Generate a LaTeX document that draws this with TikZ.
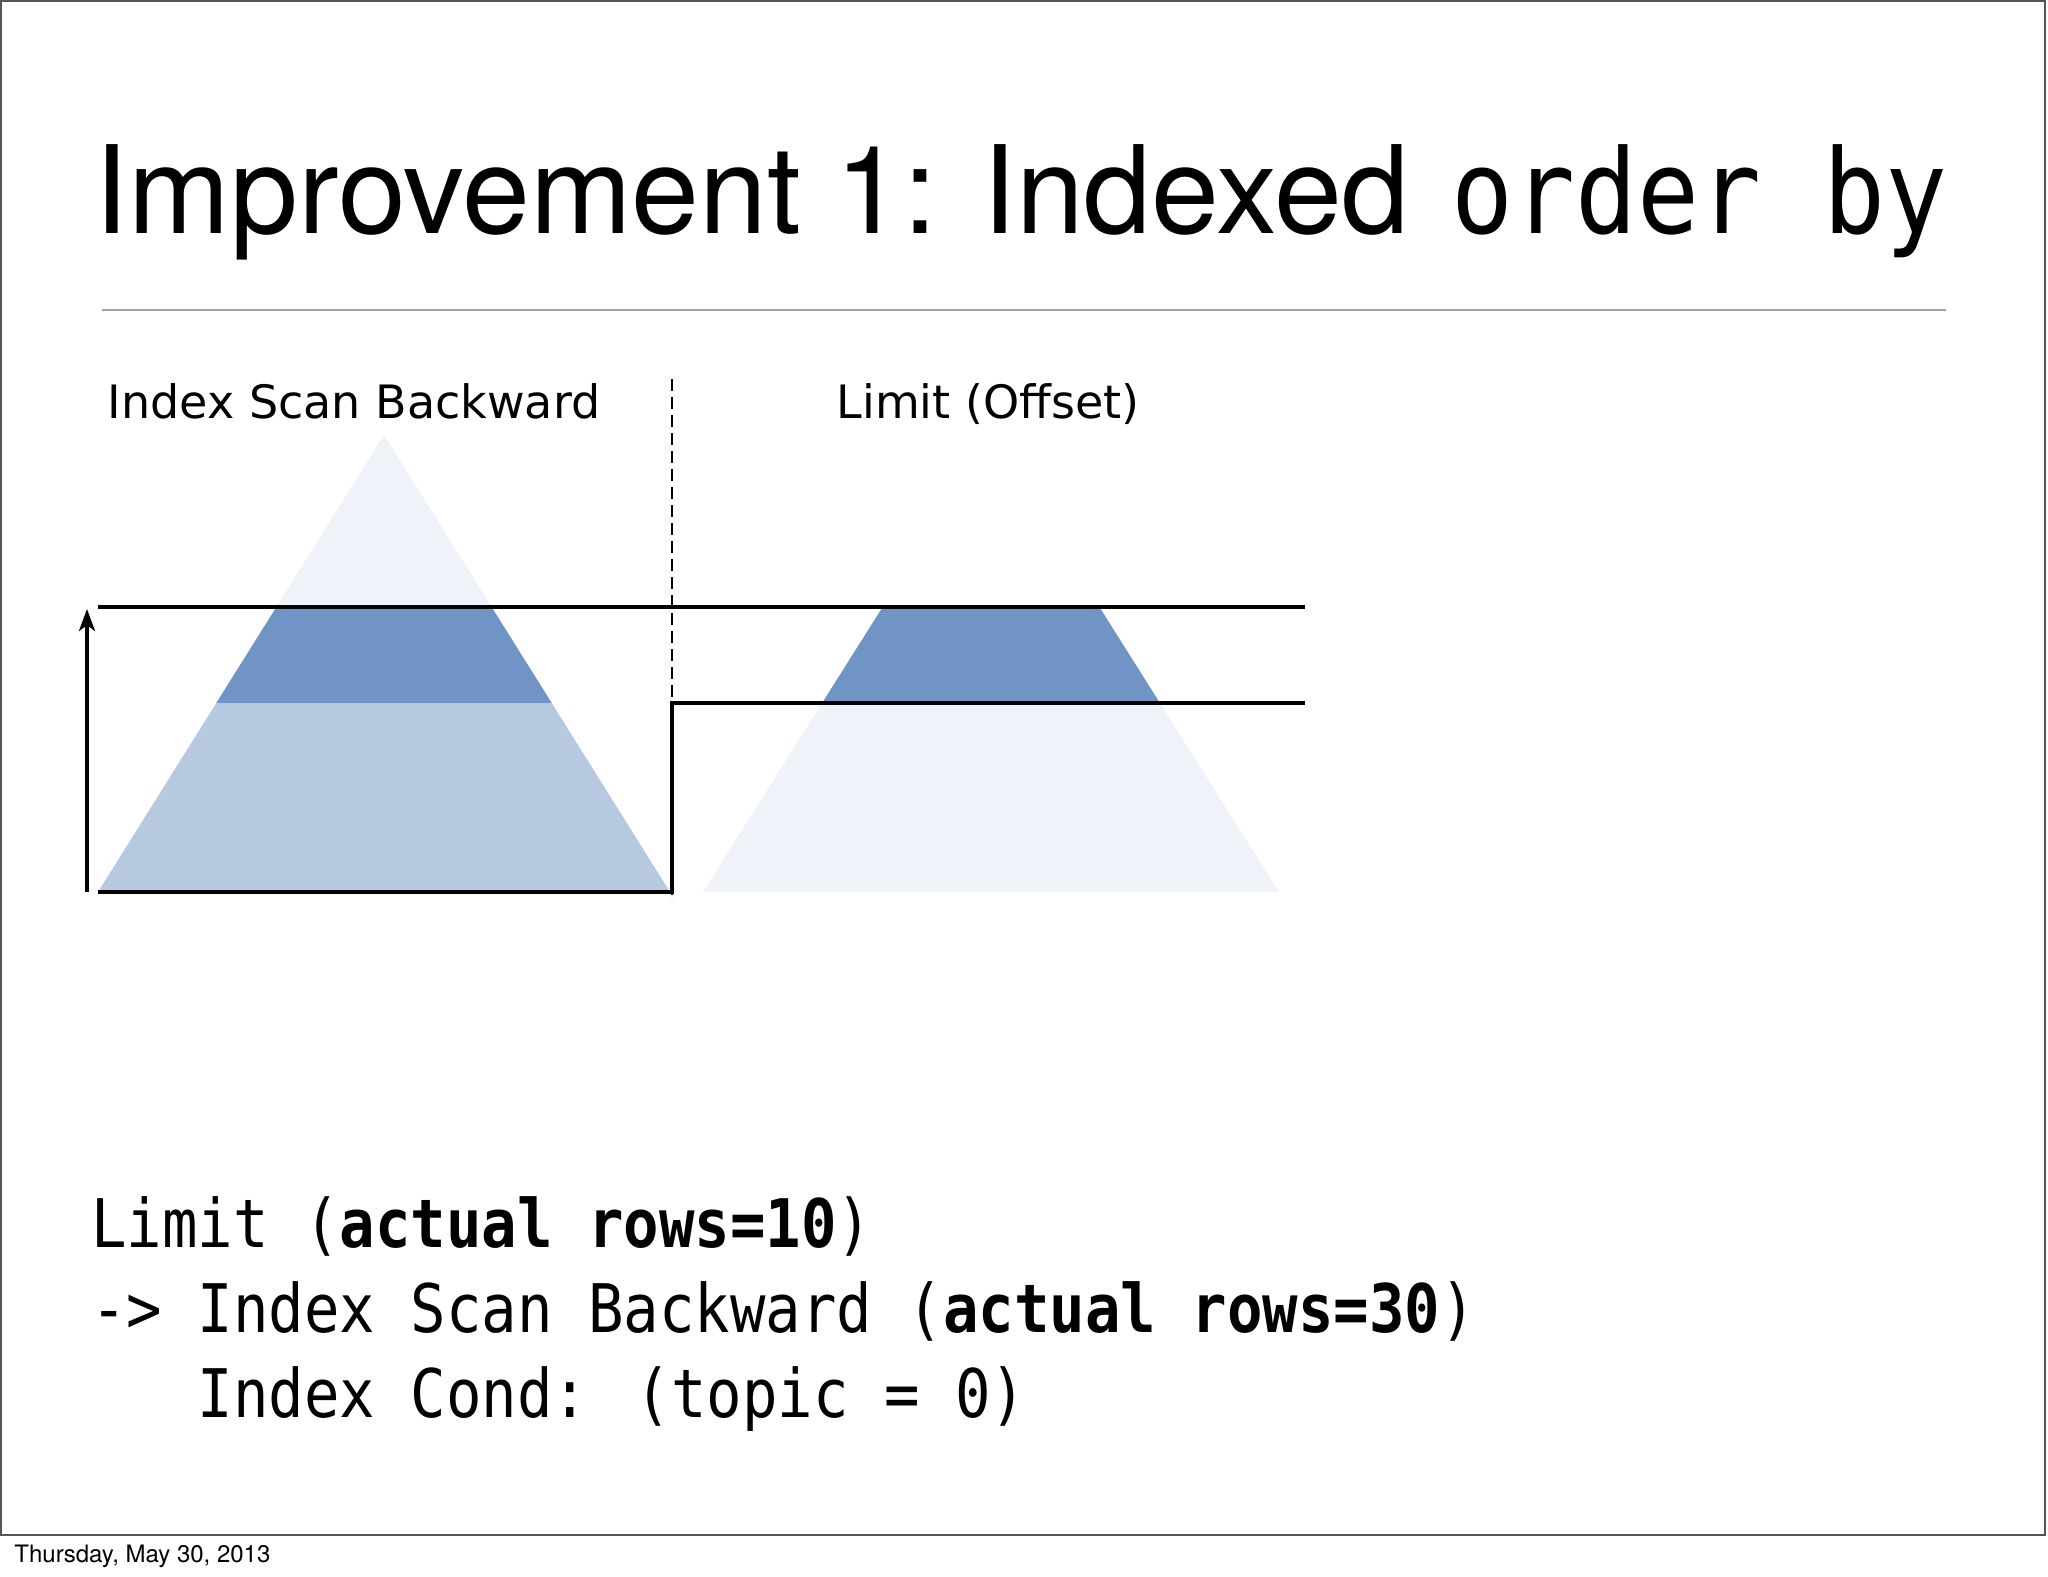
\documentclass[tikz,border=0pt]{standalone}
\usepackage{fontspec}
\setmainfont{DejaVu Sans}
\newfontfamily\helvfont{TeX Gyre Heros}
\newfontfamily\planfont[FakeStretch=0.88]{DejaVu Sans Mono}
\usepackage{xcolor}
\usetikzlibrary{arrows.meta}

\definecolor{bandDark}{HTML}{7194C6}
\definecolor{bandMid}{HTML}{B7C8E1}
\definecolor{bandPale}{HTML}{EFF2F9}
\definecolor{ruleGray}{HTML}{A0A0A0}
\definecolor{frameGray}{HTML}{555555}

\begin{document}
\begin{tikzpicture}[
  x=0.5pt, y=-0.5pt,
  thickline/.style={line width=1.9pt},
  splitline/.style={line width=1pt, dash pattern=on 6pt off 3pt},
  arrow/.style={-{Stealth[length=11pt, width=8pt, inset=3pt]}, line width=1.9pt},
  headlabel/.style={inner sep=0pt, anchor=base, font=\fontsize{23}{26}\selectfont},
  plantext/.style={inner sep=0pt, anchor=base west, font=\planfont\fontsize{33.5}{40}\selectfont}
]

\useasboundingbox (0,0) rectangle (2048,1576);

% ================= slide frame and title =================
\draw[frameGray, line width=1pt] (1,1) rectangle (2045,1535);

\node[inner sep=0pt, anchor=base west, font=\helvfont\fontsize{61}{70}\selectfont]
  (title) at (94,233) {Improvement 1: Indexed};
\node[inner sep=0pt, anchor=base west, font=\planfont\fontsize{58.5}{66}\selectfont]
  (title_code) at (1451,233) {order by};

\draw[ruleGray, line width=1pt] (102,310) -- (1946,310);

% ================= triangles =================
\coordinate (scan_apex) at (384,435);
\coordinate (scan_bl) at (98,892);
\coordinate (scan_br) at (670,892);
\coordinate (lim_apex) at (991,435);
\coordinate (lim_bl) at (703,892);
\coordinate (lim_br) at (1279,892);

\begin{scope}
  \clip (scan_apex) -- (scan_bl) -- (scan_br) -- cycle;
  \fill[bandPale] (0,400) rectangle (2048,607);
  \fill[bandDark] (0,607) rectangle (2048,703);
  \fill[bandMid] (0,703) rectangle (2048,892);
\end{scope}

\begin{scope}
  \clip (lim_apex) -- (lim_bl) -- (lim_br) -- cycle;
  \fill[bandDark] (0,607) rectangle (2048,703);
  \fill[bandPale] (0,703) rectangle (2048,892);
\end{scope}

% ================= row lines =================
\coordinate (rows_top_l) at (98,607);
\coordinate (rows_top_r) at (1305,607);
\coordinate (offset_r) at (1305,703);
\coordinate (split_mid) at (672,703);
\coordinate (split_bot) at (672,892);
\coordinate (split_top) at (672,379);
\coordinate (split_end) at (672,901);
\coordinate (scan_start) at (87,892);
\coordinate (scan_end) at (87,609);

\draw[splitline] (split_top) -- (split_end);
\draw[thickline] (rows_top_l) -- (rows_top_r);
\draw[thickline] (scan_bl) -- (split_bot) -- (split_mid) -- (offset_r);
\draw[arrow] (scan_start) -- (scan_end);

\node[headlabel] (scan_label) at (354,418) {Index Scan Backward};
\node[headlabel] (limit_label) at (988,418) {Limit (Offset)};

% ================= plan output =================
\node[plantext] (plan_limit) at (91,1247) {Limit (\textbf{actual rows=10})};
\node[plantext] (plan_scan) at (91,1332) {-> Index Scan Backward (\textbf{actual rows=30})};
\node[plantext] (plan_cond) at (91,1417) {\hphantom{-> }Index Cond: (topic = 0)};

\node[inner sep=0pt, anchor=base west, font=\helvfont\fontsize{12}{14}\selectfont]
  (footer_date) at (14,1562) {Thursday, May 30, 2013};

\end{tikzpicture}
\end{document}
